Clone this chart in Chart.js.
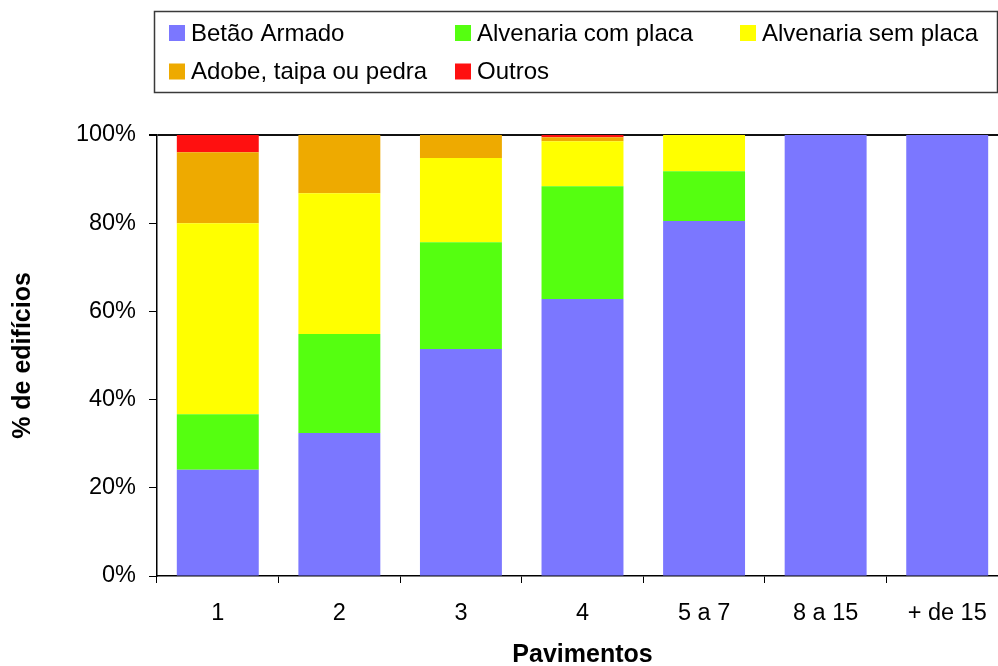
<!DOCTYPE html>
<html>
<head>
<meta charset="utf-8">
<script src="https://cdn.jsdelivr.net/npm/chart.js@4/dist/chart.umd.min.js"></script>
<style>
  html, body { margin: 0; padding: 0; background: #fff; overflow: hidden; }
  #wrap { position: absolute; left: 0; top: 0; width: 1008px; height: 666px; }
</style>
</head>
<body>
<div id="wrap"><canvas id="c" width="1008" height="666"></canvas></div>
<script>
const categories = ['1', '2', '3', '4', '5 a 7', '8 a 15', '+ de 15'];
const seriesNames = ['Betão Armado', 'Alvenaria com placa', 'Alvenaria sem placa', 'Adobe, taipa ou pedra', 'Outros'];
const betaoArmado       = [24.1, 32.4, 51.5, 62.8, 80.5, 100, 100];
const alvenariaComPlaca = [12.6, 22.5, 24.2, 25.6, 11.3, 0, 0];
const alvenariaSemPlaca = [43.3, 31.9, 19.1, 10.2, 8.2, 0, 0];
const adobeTaipaPedra   = [16.1, 13.2, 5.2, 0.9, 0, 0, 0];
const outros            = [3.9, 0, 0, 0.5, 0, 0, 0];
const yTicks = [0, 20, 40, 60, 80, 100];
const colors = ['#7B77FF', '#55FF10', '#FFFF00', '#EEAA00', '#FF1010'];

const seriesValues = [betaoArmado, alvenariaComPlaca, alvenariaSemPlaca, adobeTaipaPedra, outros];

const FONT = 'Liberation Sans, Arial, sans-serif';

const legendPlugin = {
  id: 'boxLegend',
  afterDraw(chart) {
    const ctx = chart.ctx;
    ctx.save();
    ctx.strokeStyle = '#3a3a3a';
    ctx.lineWidth = 1.5;
    ctx.strokeRect(154.5, 11.5, 843, 81);
    const colX = [169, 455, 740];
    const rowY = [33, 71.5];
    ctx.font = '24px ' + FONT;
    ctx.textBaseline = 'middle';
    ctx.fillStyle = '#000';
    chart.data.datasets.forEach((ds, i) => {
      const col = i % 3, row = Math.floor(i / 3);
      const x = colX[col], y = rowY[row];
      ctx.fillStyle = ds.backgroundColor;
      ctx.fillRect(x, y - 8, 16, 16);
      ctx.fillStyle = '#000';
      ctx.fillText(ds.label, x + 22, y + 1);
    });
    ctx.restore();
  }
};

new Chart(document.getElementById('c'), {
  type: 'bar',
  data: {
    labels: categories,
    datasets: seriesNames.map((name, i) => ({
      label: name,
      data: seriesValues[i],
      backgroundColor: colors[i],
      borderWidth: 0,
      categoryPercentage: 1,
      barPercentage: 0.674
    }))
  },
  options: {
    responsive: false,
    animation: false,
    devicePixelRatio: 1,
    layout: { padding: { top: 135, left: 0, right: 0, bottom: 0 } },
    plugins: { legend: { display: false }, tooltip: { enabled: false } },
    scales: {
      x: {
        stacked: true,
        grid: { drawOnChartArea: false, drawTicks: true, tickLength: 7, color: '#000', tickColor: '#000' },
        border: { display: true, color: '#000', width: 1.5 },
        ticks: { color: '#000', font: { family: FONT, size: 23.5 }, padding: 16, maxRotation: 0 },
        title: { display: true, text: 'Pavimentos', color: '#000', font: { family: FONT, size: 25, weight: 'bold', lineHeight: 0.9 }, padding: { top: 0, bottom: 0 } },
        afterFit(scale) { scale.height = 90; }
      },
      y: {
        stacked: true,
        min: 0,
        max: 100,
        afterBuildTicks(scale) { scale.ticks = yTicks.map(v => ({ value: v })); },
        grid: {
          drawOnChartArea: true,
          drawTicks: true,
          tickLength: 8,
          tickColor: '#000',
          color: (c) => (c.tick && c.tick.value === 100) ? '#111' : 'rgba(0,0,0,0)',
          lineWidth: (c) => (c.tick && c.tick.value === 100) ? 2 : 1
        },
        border: { display: true, color: '#000', width: 1.5 },
        ticks: { color: '#000', font: { family: FONT, size: 23.5 }, padding: 13, callback: (v) => v + '%' },
        title: { display: true, text: '% de edifícios', color: '#000', font: { family: FONT, size: 25, weight: 'bold', lineHeight: 1 }, padding: { top: 10.5, bottom: 0 } },
        afterFit(scale) { scale.width = 157; }
      }
    }
  },
  plugins: [legendPlugin]
});
</script>
</body>
</html>
